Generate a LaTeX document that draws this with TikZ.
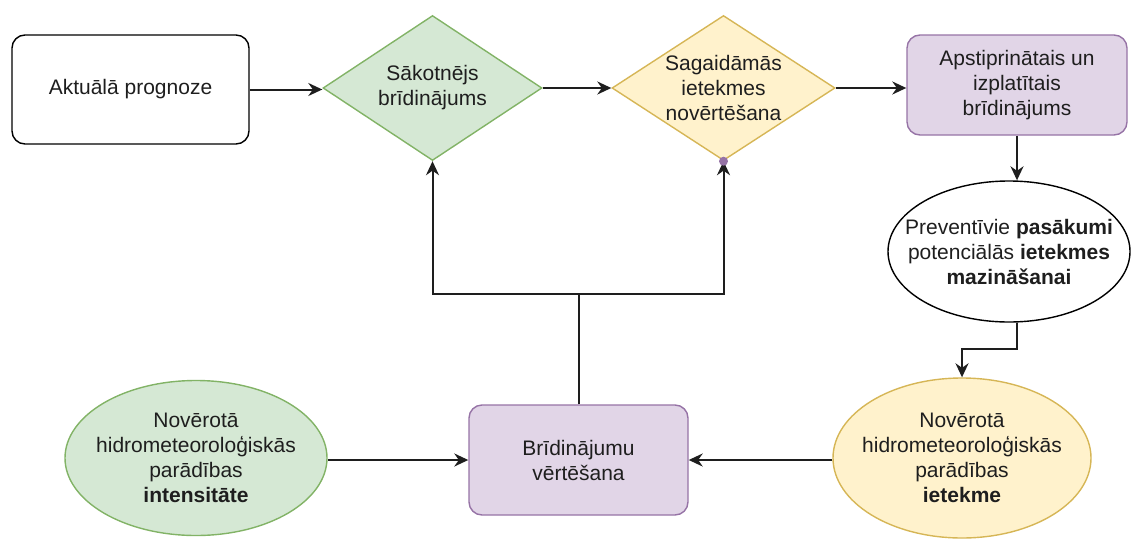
\documentclass[tikz,border=0pt]{standalone}
\usepackage{fontspec}
\setmainfont{Liberation Sans}
\usetikzlibrary{shapes.geometric,arrows.meta}
\definecolor{GF}{RGB}{213,232,212}
\definecolor{GS}{RGB}{130,179,102}
\definecolor{YF}{RGB}{255,242,204}
\definecolor{YS}{RGB}{214,182,86}
\definecolor{PF}{RGB}{225,213,231}
\definecolor{PS}{RGB}{150,115,166}
\definecolor{LN}{RGB}{30,30,30}
\tikzset{
  every node/.style={font=\fontsize{21}{25}\selectfont, align=center, inner sep=0pt},
  lbl/.style={font=\fontsize{21}{25}\selectfont, align=center, text=LN},
  rbox/.style={draw, line width=1.4pt, rounded corners=13pt, text=LN},
  dmd/.style={diamond, draw, line width=1.4pt},
  ell/.style={ellipse, draw, line width=1.4pt},
  arr/.style={line width=2pt, draw=LN, -{Stealth[length=14pt,width=13pt]}},
  ln/.style={line width=2pt, draw=LN}
}

\begin{document}
\begin{tikzpicture}[x=1pt,y=-1pt]
\useasboundingbox (0,0) rectangle (1131,538);
% top row
\node[rbox, minimum width=237pt, minimum height=109pt] (prog) at (130.5,89.5) {Aktuālā prognoze};
\node[dmd, draw=GS, fill=GF, minimum width=219pt, minimum height=145pt,
      label={[lbl]center:Sākotnējs\\brīdinājums}] (sak) at (432.5,88) {};
\node[dmd, draw=YS, fill=YF, minimum width=223pt, minimum height=145pt,
      label={[lbl]center:Sagaidāmās\\ietekmes\\novērtēšana}] (iet) at (723.5,88) {};
\node[rbox, draw=PS, fill=PF, minimum width=220pt, minimum height=100pt] (apst) at (1017,85) {Apstiprinātais un\\izplatītais\\brīdinājums};
% right column
\node[ell, minimum width=242pt, minimum height=141pt,
      label={[lbl]center:Preventīvie \textbf{pasākumi}\\potenciālās \textbf{ietekmes}\\\textbf{mazināšanai}}] (prev) at (1009,251.5) {};
\node[ell, draw=YS, fill=YF, minimum width=258pt, minimum height=160pt,
      label={[lbl]center:Novērotā\\hidrometeoroloģiskās\\parādības\\\textbf{ietekme}}] (iek) at (962,458) {};
% bottom row
\node[rbox, draw=PS, fill=PF, minimum width=219pt, minimum height=110pt] (vert) at (578.5,460) {Brīdinājumu\\vērtēšana};
\node[ell, draw=GS, fill=GF, minimum width=262pt, minimum height=155pt,
      label={[lbl]center:Novērotā\\hidrometeoroloģiskās\\parādības\\\textbf{intensitāte}}] (int) at (196,458) {};
\coordinate (jn) at (vert.north |- 0,294);
% connectors
\draw[arr] (prog.east) -- (prog.east -| sak.west);
\draw[arr] (sak.east) -- (iet.west);
\draw[arr] (iet.east) -- (iet.east -| apst.west);
\draw[arr] (apst.south) -- (apst.south |- prev.north);
\draw[arr] (prev.south -| apst.south) -- ++(0,26) -| (iek.north);
\draw[arr] (iek.west |- vert.east) -- (vert.east);
\draw[arr] (int.east |- vert.west) -- (vert.west);
\draw[ln] (vert.north) -- (jn);
\draw[arr] (jn) -| (sak.south);
\draw[arr] (jn) -| (iet.south);
\fill[PS] (iet.south) circle (4.5pt);
\end{tikzpicture}
\end{document}
